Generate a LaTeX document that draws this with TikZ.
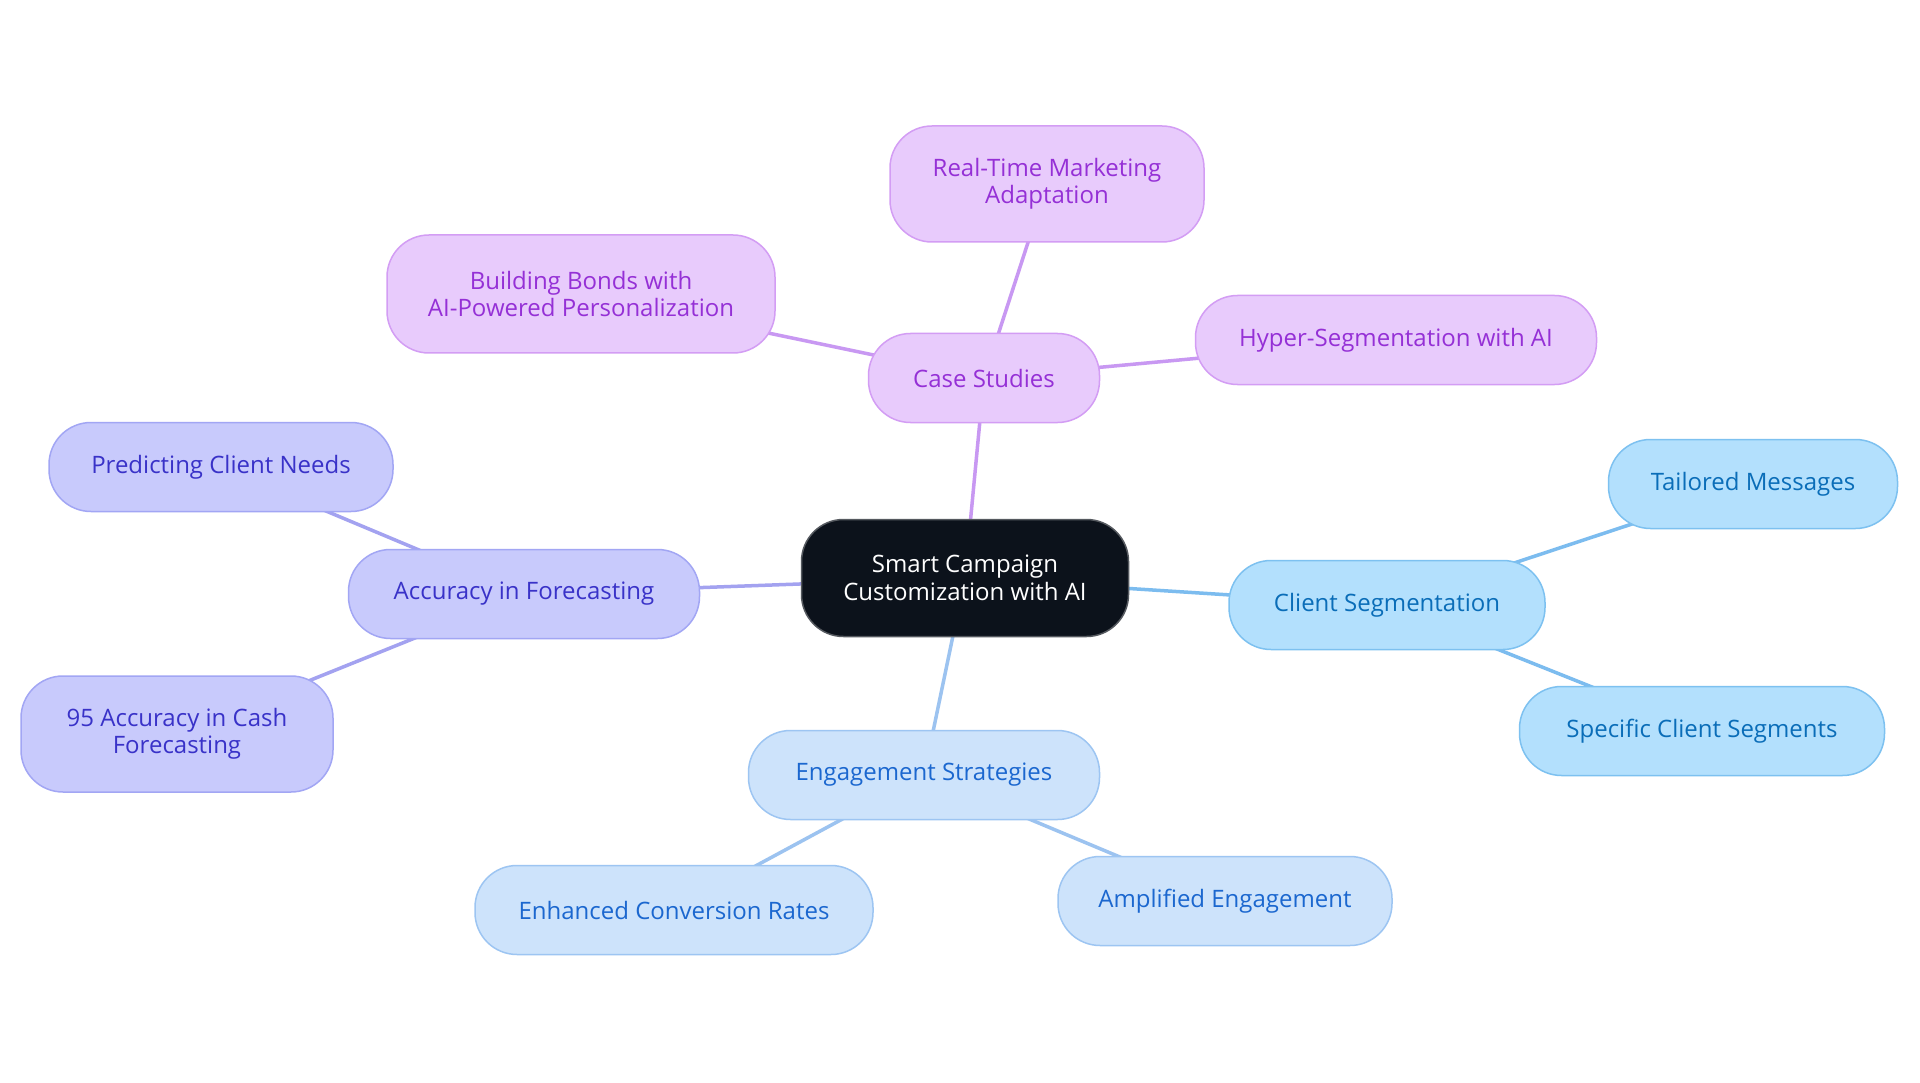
\documentclass[tikz,border=0pt]{standalone}
\usepackage{fontspec}
\setmainfont{Open Sans}
\usepackage{tikz}
\usetikzlibrary{backgrounds}
\definecolor{mroot}{HTML}{0C121B}
\definecolor{mpurfill}{HTML}{E8CBFC}
\definecolor{mpurdraw}{HTML}{D39DF4}
\definecolor{mpurtext}{HTML}{9530D6}
\definecolor{mpurline}{HTML}{C898F2}
\definecolor{mindfill}{HTML}{C8CAFC}
\definecolor{minddraw}{HTML}{A2A6F4}
\definecolor{mindtext}{HTML}{3932C8}
\definecolor{mindline}{HTML}{A3A2F0}
\definecolor{mclifill}{HTML}{B3E0FD}
\definecolor{mclidraw}{HTML}{7DC1F0}
\definecolor{mclitext}{HTML}{0A6DB8}
\definecolor{mcliline}{HTML}{7CBCEF}
\definecolor{mengfill}{HTML}{CDE3FB}
\definecolor{mengdraw}{HTML}{9DC5F2}
\definecolor{mengtext}{HTML}{1B67CF}
\definecolor{mengline}{HTML}{9CC3F0}

\begin{document}
\begin{tikzpicture}[x=1pt, y=-1pt,
  pill/.style={rectangle, rounded corners=42pt, draw, line width=1.5pt, align=center,
    font=\fontsize{24}{27.5}\selectfont, inner sep=4pt, minimum height=89pt},
  purbox/.style={pill, draw=mpurdraw, fill=mpurfill, text=mpurtext},
  indbox/.style={pill, draw=minddraw, fill=mindfill, text=mindtext},
  clibox/.style={pill, draw=mclidraw, fill=mclifill, text=mclitext},
  engbox/.style={pill, draw=mengdraw, fill=mengfill, text=mengtext},
  link/.style={line width=3.5pt}
]
\useasboundingbox (0,0) rectangle (1920,1083);

% root
\node[pill, draw=mroot!70!white, fill=mroot, text=white, minimum width=327pt, minimum height=117pt] (root) at (965,578) {Smart Campaign\\Customization with AI};

% case studies
\node[purbox, minimum width=231pt] (cases) at (984,378) {Case Studies};
\node[purbox, minimum width=314pt, minimum height=116pt] (realtime) at (1047,184) {Real-Time Marketing\\Adaptation};
\node[purbox, minimum width=388pt, minimum height=118pt] (bonds) at (581,294) {Building Bonds with\\AI-Powered Personalization};
\node[purbox, minimum width=401pt] (hyper) at (1396,340) {Hyper-Segmentation with AI};

% forecasting
\node[indbox, minimum width=351pt] (forecast) at (524,594) {Accuracy in Forecasting};
\node[indbox, minimum width=344pt] (predict) at (221,467) {Predicting Client Needs};
\node[indbox, minimum width=312pt, minimum height=116pt] (cash) at (177,734) {95 Accuracy in Cash\\Forecasting};

% segmentation
\node[clibox, minimum width=316pt] (segment) at (1387,605) {Client Segmentation};
\node[clibox, minimum width=289pt] (tailored) at (1753,484) {Tailored Messages};
\node[clibox, minimum width=365pt] (specific) at (1702,731) {Specific Client Segments};

% engagement
\node[engbox, minimum width=351pt] (engage) at (924,775) {Engagement Strategies};
\node[engbox, minimum width=398pt] (conversion) at (674,910) {Enhanced Conversion Rates};
\node[engbox, minimum width=334pt] (amplified) at (1225,901) {Amplified Engagement};

\begin{scope}[on background layer]
\fill[white] (0,0) rectangle (1920,1083);
\draw[link, mpurline] (root.center) -- (cases.center);
\draw[link, mpurline] (cases.center) -- (realtime.center);
\draw[link, mpurline] (cases.center) -- (bonds.center);
\draw[link, mpurline] (cases.center) -- (hyper.center);
\draw[link, mindline] (root.center) -- (forecast.center);
\draw[link, mindline] (forecast.center) -- (predict.center);
\draw[link, mindline] (forecast.center) -- (cash.center);
\draw[link, mcliline] (root.center) -- (segment.center);
\draw[link, mcliline] (segment.center) -- (tailored.center);
\draw[link, mcliline] (segment.center) -- (specific.center);
\draw[link, mengline] (root.center) -- (engage.center);
\draw[link, mengline] (engage.center) -- (conversion.center);
\draw[link, mengline] (engage.center) -- (amplified.center);
\end{scope}
\end{tikzpicture}
\end{document}
